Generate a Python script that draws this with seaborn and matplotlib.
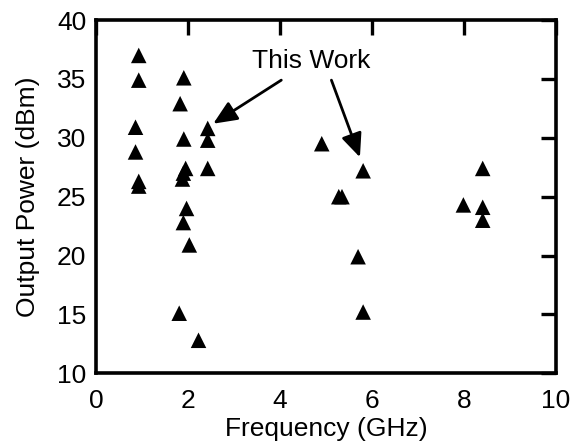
import matplotlib
matplotlib.use('Agg')
import matplotlib.pyplot as plt
import numpy as np
import pandas as pd
import seaborn as sns

# frequency (GHz) and output power (dBm)
freq = [0.93, 0.93, 0.86, 0.86, 0.93, 0.93,
        1.83, 1.91, 1.91, 1.95, 1.90, 1.88, 1.97, 1.90, 2.03, 1.81, 2.23,
        2.43, 2.43, 2.43,
        4.91, 5.28, 5.35, 5.81, 5.70, 5.81,
        7.99, 8.41, 8.41, 8.41]
power = [37.0, 34.9, 30.9, 28.8, 26.3, 25.9,
         32.9, 35.1, 29.9, 27.4, 27.0, 26.5, 24.0, 22.8, 20.9, 15.1, 12.8,
         30.8, 29.8, 27.4,
         29.5, 25.0, 25.0, 27.2, 19.9, 15.2,
         24.3, 27.4, 24.1, 23.0]
# "This Work" arrows: tail -> tip
arrow_tails = [(4.03, 34.9), (5.12, 34.9)]
arrow_tips = [(2.55, 31.2), (5.74, 28.35)]

df = pd.DataFrame({'freq': freq, 'power': power})

sns.set_style('white')
plt.rcParams['font.family'] = ['Liberation Sans', 'DejaVu Sans']
plt.rcParams['text.color'] = 'black'
plt.rcParams['axes.labelcolor'] = 'black'

fig = plt.figure(figsize=(5.73, 4.47), dpi=100)
ax = fig.add_axes([0.1675, 0.165, 0.8025, 0.79])
sns.scatterplot(data=df, x='freq', y='power', marker='^', color='black',
                edgecolor='none', s=125, ax=ax, legend=False)

ax.set_xlim(0, 10)
ax.set_ylim(10, 40)
ax.set_xticks([0, 2, 4, 6, 8, 10])
ax.set_yticks([10, 15, 20, 25, 30, 35, 40])
ax.set_xlabel('Frequency (GHz)', fontsize=19, labelpad=3)
ax.set_ylabel('Output Power (dBm)', fontsize=19, labelpad=12)
ax.tick_params(direction='in', length=11, width=2.4, labelsize=19,
               top=True, right=True, colors='black')
ax.tick_params(axis='x', pad=11)
ax.tick_params(axis='y', pad=7)
for sp in ax.spines.values():
    sp.set_linewidth(2.6)
    sp.set_color('black')
    sp.set_visible(True)

for tail, tip in zip(arrow_tails, arrow_tips):
    ax.annotate('', xy=tip, xytext=tail,
                arrowprops=dict(arrowstyle='-|>,head_length=0.8,head_width=0.35',
                                color='black', lw=2, shrinkA=0, shrinkB=0,
                                mutation_scale=18))
ax.text(4.67, 36.55, 'This Work', fontsize=19, ha='center', va='center')

fig.savefig('out.png', dpi=100)
